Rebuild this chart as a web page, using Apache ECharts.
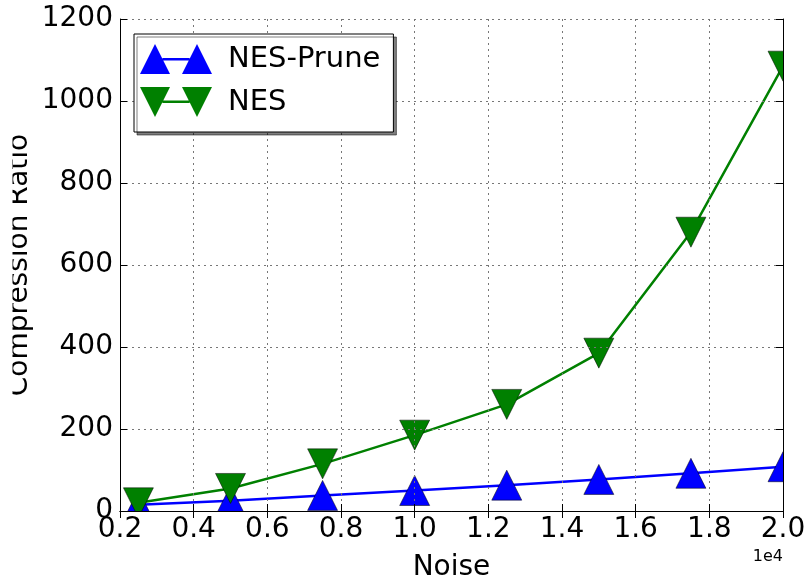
<!DOCTYPE html>
<html>
<head>
<meta charset="utf-8">
<script src="https://cdn.jsdelivr.net/npm/echarts@6/dist/echarts.min.js"></script>
<style>
  html, body { margin: 0; padding: 0; background: #fff; }
  #chart { width: 807px; height: 586px; }
</style>
</head>
<body>
<div id="chart"></div>
<script>
// Noise levels (raw values; axis shows them in units of 1e4)
const noise = [2500, 5000, 7500, 10000, 12500, 15000, 17500, 20000];
// Compression ratio per method
const nesPrune = [15, 25, 38, 50, 63, 77, 92, 108];
const nes = [20, 55, 115, 185, 260, 385, 680, 1085];

const FONT = 'DejaVu Sans';
const BLUE = '#0000ff';
const GREEN = '#008000';

const chart = echarts.init(document.getElementById('chart'), null, { renderer: 'canvas' });

const frameLine = { show: true, lineStyle: { color: '#000', width: 1 } };
const innerTick = { show: true, inside: true, length: 7, lineStyle: { color: '#000', width: 1 } };
const dotted = { show: true, lineStyle: { color: '#777', width: 1, type: [2, 4] } };

const upIcon = 'path://M0,30L15,0L30,30Z M42,30L57,0L72,30Z M22.5,14L49.5,14L49.5,16.5L22.5,16.5Z';
const downIcon = 'path://M0,0L30,0L15,30Z M42,0L72,0L57,30Z M22.5,13.5L49.5,13.5L49.5,16L22.5,16Z';

chart.setOption({
  animation: false,
  backgroundColor: '#fff',
  grid: { left: 120, top: 19, right: 24, bottom: 75, containLabel: false, outerBoundsMode: 'none' },
  xAxis: [
    {
      type: 'value', position: 'bottom', min: 2000, max: 20000, interval: 2000, z: 10,
      axisLine: frameLine, axisTick: innerTick, splitLine: dotted,
      axisLabel: {
        fontFamily: FONT, fontSize: 28, color: '#000', margin: 5,
        formatter: v => (v / 10000).toFixed(1)
      },
      name: 'Noise', nameLocation: 'middle', nameGap: 43, nameMoveOverlap: false,
      nameTextStyle: { fontFamily: FONT, fontSize: 28, color: '#000' }
    },
    {
      type: 'value', position: 'top', min: 2000, max: 20000, interval: 2000, z: 10,
      axisLine: frameLine, axisTick: innerTick, splitLine: { show: false },
      axisLabel: { show: false }
    }
  ],
  yAxis: [
    {
      type: 'value', position: 'left', min: 0, max: 1200, interval: 200, z: 10,
      axisLine: frameLine, axisTick: innerTick, splitLine: dotted,
      axisLabel: { fontFamily: FONT, fontSize: 28, color: '#000', margin: 7, formatter: v => String(v) },
      name: 'Compression Ratio', nameLocation: 'middle', nameGap: 86, nameRotate: 90,
      nameMoveOverlap: false,
      nameTextStyle: { fontFamily: FONT, fontSize: 28, color: '#000' }
    },
    {
      type: 'value', position: 'right', min: 0, max: 1200, interval: 200, z: 10,
      axisLine: frameLine, axisTick: innerTick, splitLine: { show: false },
      axisLabel: { show: false }
    }
  ],
  legend: {
    orient: 'vertical', left: 134, top: 34,
    padding: [10, 13, 15, 6], itemGap: 13,
    itemWidth: 72, itemHeight: 30,
    backgroundColor: '#fff', borderColor: '#000', borderWidth: 1,
    shadowColor: 'rgba(0,0,0,0.5)', shadowOffsetX: 3, shadowOffsetY: 3, shadowBlur: 0,
    textStyle: { fontFamily: FONT, fontSize: 29, color: '#000', lineHeight: 30, padding: [0, 0, 0, 11] },
    data: [
      { name: 'NES-Prune', icon: upIcon, itemStyle: { color: BLUE, borderWidth: 0 } },
      { name: 'NES', icon: downIcon, itemStyle: { color: GREEN, borderWidth: 0 } }
    ],
    z: 20
  },
  graphic: [
    // mask the marker parts that fall outside the plotting frame
    { type: 'rect', z: 5, shape: { x: 783.5, y: 0, width: 30, height: 586 }, style: { fill: '#fff' } },
    { type: 'rect', z: 5, shape: { x: 90, y: 511.5, width: 730, height: 20 }, style: { fill: '#fff' } },
    // the y title runs off the figure's left edge
    { type: 'rect', z: 30, shape: { x: 0, y: 0, width: 12.5, height: 586 }, style: { fill: '#fff' } },
    // axis offset text
    { type: 'text', z: 30, right: 807 - 783, top: 549,
      style: { text: '1e4', font: '16px "DejaVu Sans"', fill: '#000' } }
  ],
  series: [
    {
      name: 'NES-Prune', type: 'line', xAxisIndex: 0, yAxisIndex: 0,
      data: noise.map((x, i) => [x, nesPrune[i]]),
      lineStyle: { color: BLUE, width: 2.5 },
      itemStyle: { color: BLUE, borderColor: '#000', borderWidth: 0.5 },
      symbol: 'triangle', symbolSize: [30, 30], showAllSymbol: true, clip: false
    },
    {
      name: 'NES', type: 'line', xAxisIndex: 0, yAxisIndex: 0,
      data: noise.map((x, i) => [x, nes[i]]),
      lineStyle: { color: GREEN, width: 2.5 },
      itemStyle: { color: GREEN, borderColor: '#000', borderWidth: 0.5 },
      symbol: 'triangle', symbolRotate: 180, symbolSize: [30, 30], showAllSymbol: true, clip: false
    }
  ]
});
</script>
</body>
</html>
